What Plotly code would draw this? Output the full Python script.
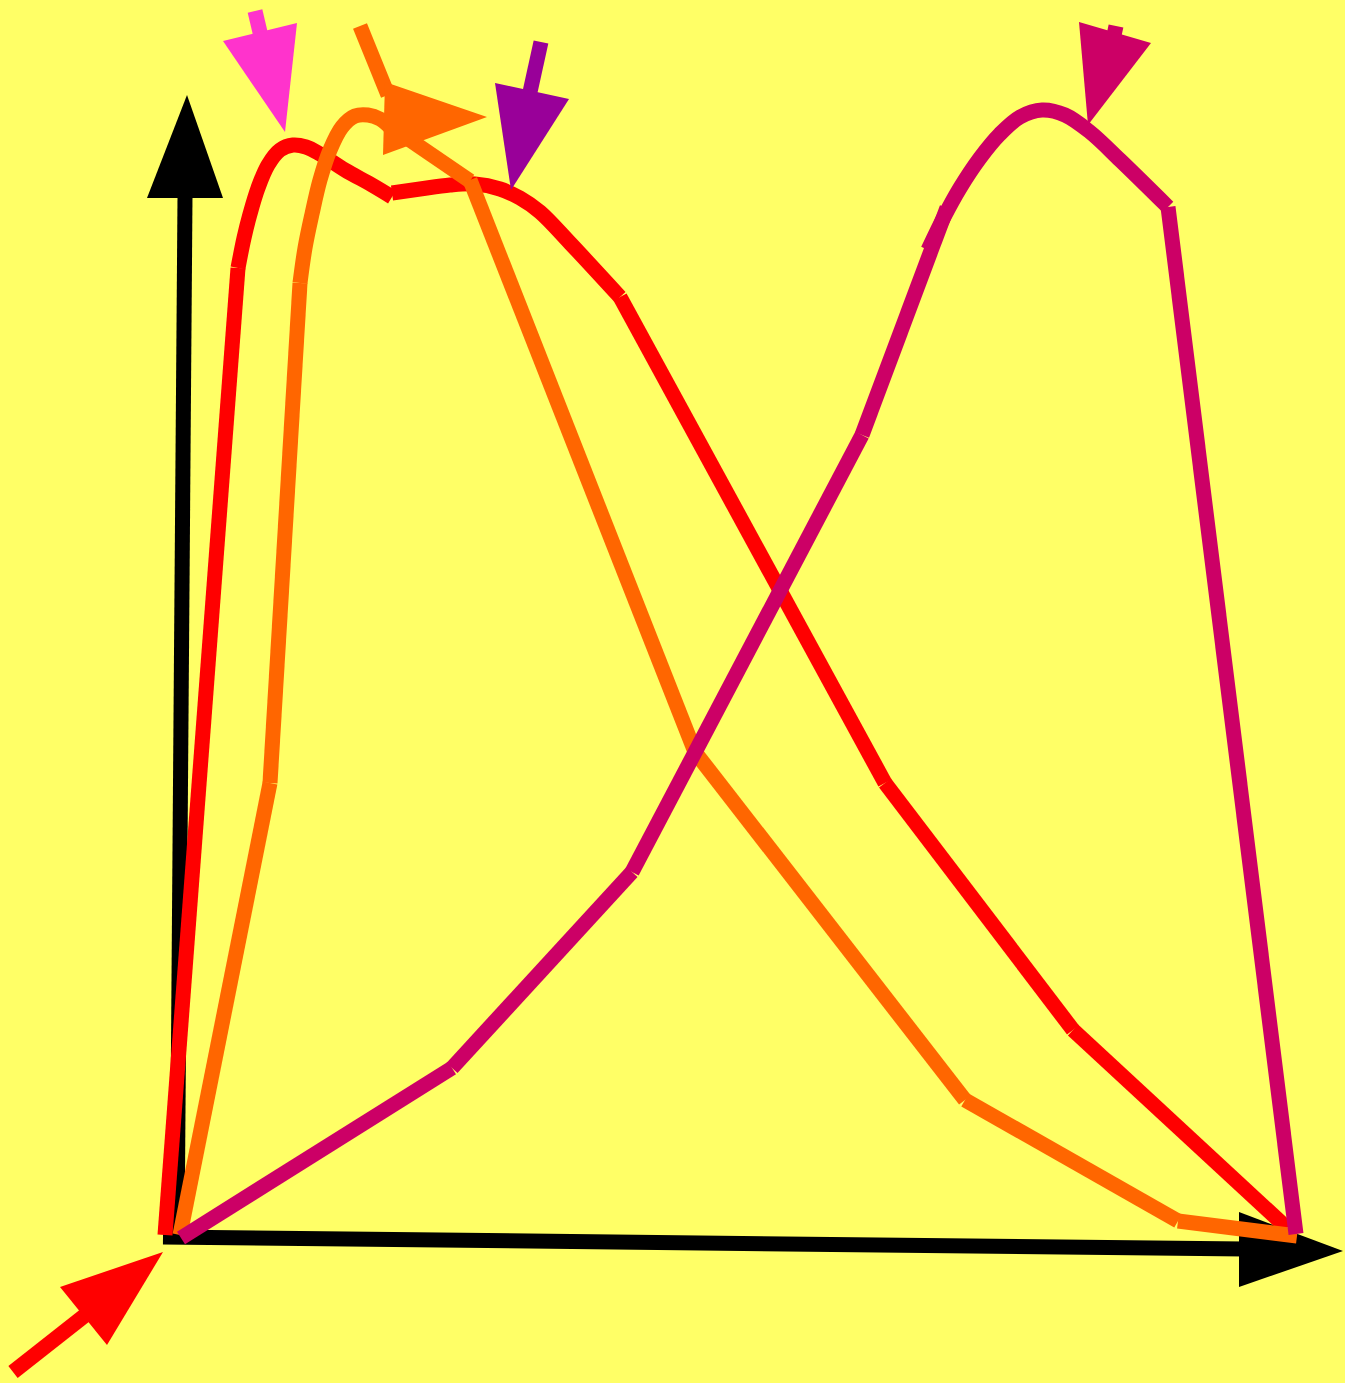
import plotly.graph_objects as go

# ---- data (drawing units = pixel grid of the 1345 x 1383 canvas, y downward) ----
# red series, drawn as separate path pieces
red_x = [[165, 238], [238, 244, 250, 258, 268, 280, 293, 306, 320, 345, 372, 392],
         [392, 420, 450, 475, 500, 520, 540, 570, 620], [620, 885], [885, 1073], [1073, 1287]]
red_y = [[1235, 268], [268, 238, 214, 188, 165, 150, 145, 147, 154, 170, 185, 197],
         [193, 189, 185, 184, 189, 198, 212, 243, 297], [297, 783], [783, 1030], [1030, 1228]]

# orange series
orange_x = [[180, 270], [270, 300], [300, 305, 312, 320, 330, 342, 355, 368, 380, 390],
            [388, 470], [470, 695], [695, 965], [965, 1178], [1178, 1297]]
orange_y = [[1235, 783], [783, 283], [283, 248, 214, 180, 150, 127, 116, 115, 119, 127],
            [125, 181], [180, 752], [752, 1100], [1100, 1221], [1221, 1236]]

# magenta series
magenta_x = [[181, 452], [452, 632], [632, 862], [862, 947],
             [928, 945, 960, 980, 1000, 1020, 1042, 1065, 1090, 1120, 1168], [1168, 1296]]
magenta_y = [[1238, 1068], [1068, 872], [872, 435], [435, 208],
             [250, 215, 188, 158, 134, 117, 110, 115, 132, 160, 207], [207, 1234]]

# axis arrows (black)
axis_shaft_x = [[177, 185], [163, 1245]]
axis_shaft_y = [[1240, 196], [1237, 1249]]
axis_head_x = [[187, 147, 223], [1239, 1343, 1239]]
axis_head_y = [[95, 198, 198], [1212, 1251, 1287]]

# pointer arrows
arrow_colors = ["#FF33CC", "#FF6600", "#990099", "#CC0066", "#FF0000"]
arrow_shaft_x = [[255, 263], [360, 388], [541, 530], [1116, 1113], [13, 88]]
arrow_shaft_y = [[11, 45], [26, 95], [42, 92], [26, 40], [1372, 1313]]
arrow_head_x = [[223, 297, 285], [385, 487, 383], [495, 569, 511], [1079, 1151, 1088], [60, 163, 107]]
arrow_head_y = [[41, 23, 132], [82, 117, 155], [83, 99, 190], [22, 43, 125], [1287, 1252, 1345]]

BG = "#FFFF66"
LW = 15

fig = go.Figure()


def add_line(xs, ys, color):
    shape = "spline" if len(xs) > 2 else "linear"
    fig.add_trace(go.Scatter(x=xs, y=ys, mode="lines",
                             line=dict(color=color, width=LW, shape=shape, smoothing=1.0),
                             hoverinfo="skip", showlegend=False))


def add_tri(xs, ys, color):
    fig.add_trace(go.Scatter(x=xs + [xs[0]], y=ys + [ys[0]], mode="lines",
                             fill="toself", fillcolor=color,
                             line=dict(color=color, width=0),
                             hoverinfo="skip", showlegend=False))


for xs, ys in zip(axis_shaft_x, axis_shaft_y):
    add_line(xs, ys, "#000000")
for xs, ys in zip(axis_head_x, axis_head_y):
    add_tri(xs, ys, "#000000")

for xs, ys in zip(red_x, red_y):
    add_line(xs, ys, "#FF0000")
for xs, ys in zip(orange_x, orange_y):
    add_line(xs, ys, "#FF6600")
for xs, ys in zip(magenta_x, magenta_y):
    add_line(xs, ys, "#CC0066")

for c, sx, sy, hx, hy in zip(arrow_colors, arrow_shaft_x, arrow_shaft_y, arrow_head_x, arrow_head_y):
    add_line(sx, sy, c)
    add_tri(hx, hy, c)

fig.update_layout(
    width=1345, height=1383,
    margin=dict(l=0, r=0, t=0, b=0, pad=0),
    paper_bgcolor=BG, plot_bgcolor=BG,
    showlegend=False, hovermode=False,
    xaxis=dict(range=[0, 1345], visible=False, fixedrange=True),
    yaxis=dict(range=[1383, 0], visible=False, fixedrange=True),
)

fig.write_html("out.html", config={"displayModeBar": False, "staticPlot": True},
               post_script="document.body.style.margin='0';document.body.style.background='#FFFF66';")
